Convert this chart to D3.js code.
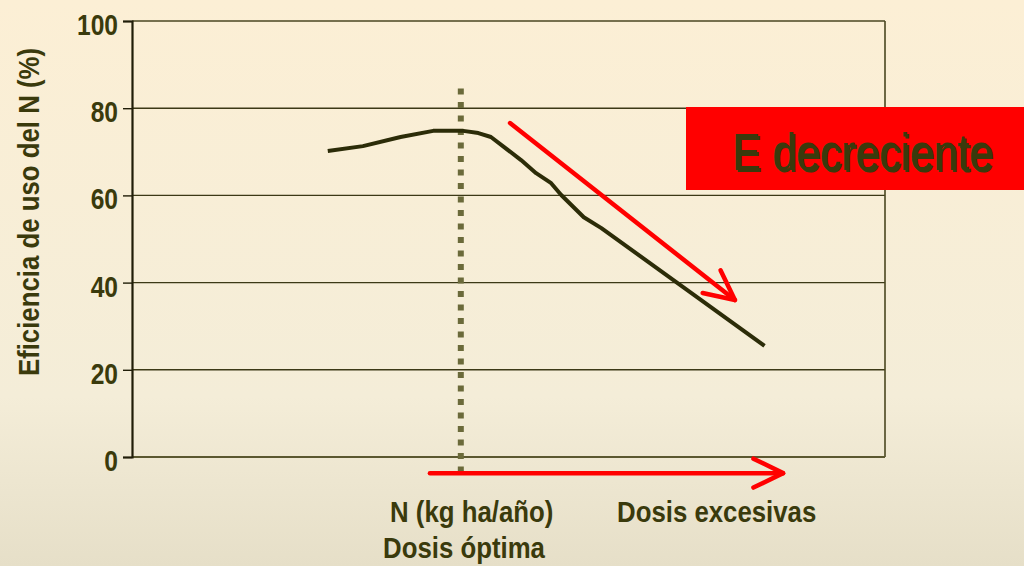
<!DOCTYPE html>
<html>
<head>
<meta charset="utf-8">
<title>Eficiencia de uso del N</title>
<script src="https://cdn.jsdelivr.net/npm/d3@7"></script>
<style>
  html, body { margin: 0; padding: 0; }
  body { width: 1024px; height: 566px; overflow: hidden; }
  svg { display: block; }
  .lbl { font-family: "Liberation Sans", Arial, sans-serif; fill: #3a3a0c; }
</style>
</head>
<body>
<svg id="chart" width="1024" height="566"></svg>
<script>
// dosis de N (kg ha/año, escala relativa) y eficiencia de uso (%)
var doseN      = [78, 92, 107, 120, 132, 138, 143, 155, 161, 167, 171, 180, 187, 252]
var efficiency = [70.2, 71.3, 73.4, 74.8, 74.8, 74.3, 73.4, 68.1, 65.1, 62.8, 60.1, 55.0, 52.5, 25.5]
var yTicks     = [0, 20, 40, 60, 80, 100]
var optimumDose = 131
// flechas rojas: [x0, y0, x1, y1] en unidades de datos
var arrowDecline = [150.6, 76.6, 240.2, 36]
var arrowExcess  = [118.7, -3.7, 259.4, -3.7]

var NARROW = 0.86   // Arial Narrow ~ Arial comprimida

var svg = d3.select("#chart")
var W = 1024, H = 566
var pLeft = 132, pRight = 885, pTop = 21, pBottom = 457

// fondo degradado
var defs = svg.append("defs")
var grad = defs.append("linearGradient").attr("id", "bg")
    .attr("x1", 0).attr("y1", 0).attr("x2", 0).attr("y2", 1)
grad.append("stop").attr("offset", "0%").attr("stop-color", "#fcefd5")
grad.append("stop").attr("offset", "70%").attr("stop-color", "#f4edd8")
grad.append("stop").attr("offset", "100%").attr("stop-color", "#e6dfc8")
svg.append("rect").attr("width", W).attr("height", H).attr("fill", "url(#bg)")

var x = d3.scaleLinear().domain([0, 300]).range([pLeft, pRight])
var y = d3.scaleLinear().domain([0, 100]).range([pBottom, pTop])

// lineas de rejilla
svg.append("g")
  .selectAll("line")
  .data(yTicks.filter(function(d) { return d > 0 }))
  .enter().append("line")
    .attr("x1", pLeft).attr("x2", pRight)
    .attr("y1", function(d) { return y(d) }).attr("y2", function(d) { return y(d) })
    .attr("stroke", function(d) { return d == 100 ? "#4a4620" : "#3c3916" })
    .attr("stroke-width", 1.4)

// borde derecho
svg.append("line")
    .attr("x1", pRight).attr("x2", pRight).attr("y1", pTop).attr("y2", pBottom)
    .attr("stroke", "#4a4620").attr("stroke-width", 1.6)

// eje x (base)
svg.append("line")
    .attr("x1", pLeft).attr("x2", pRight).attr("y1", pBottom).attr("y2", pBottom)
    .attr("stroke", "#5b5830").attr("stroke-width", 2.2)

// eje y
var yAxis = d3.axisLeft(y).tickValues(yTicks).tickSize(9).tickPadding(5)
var gy = svg.append("g").attr("transform", "translate(" + pLeft + ",0)").call(yAxis)
gy.select(".domain").attr("stroke", "#201d08").attr("stroke-width", 2.2)
gy.selectAll(".tick line").attr("stroke", "#201d08").attr("stroke-width", 1.4)
gy.selectAll(".tick text")
    .attr("class", "lbl")
    .attr("font-size", 30)
    .attr("font-family", null)
    .attr("font-weight", "bold")
    .attr("dy", "0.45em")
    .attr("fill", "#3a3a0c")
    .attr("x", null)
    .attr("transform", "translate(-14,0) scale(0.82,1)")

// linea de dosis optima
svg.append("line")
    .attr("x1", x(optimumDose)).attr("x2", x(optimumDose))
    .attr("y1", y(84.5)).attr("y2", y(-4.3))
    .attr("stroke", "#6b6a3a").attr("stroke-width", 6)
    .attr("stroke-dasharray", "6,7.5")

// curva de eficiencia
var pts = doseN.map(function(d, i) { return [d, efficiency[i]] })
var line = d3.line().x(function(d) { return x(d[0]) }).y(function(d) { return y(d[1]) })
svg.append("path")
    .datum(pts)
    .attr("d", line)
    .attr("fill", "none")
    .attr("stroke", "#2c2c08")
    .attr("stroke-width", 4)
    .attr("stroke-linejoin", "round")

// flechas
function drawArrow(a) {
  var x0 = x(a[0]), y0 = y(a[1]), x1 = x(a[2]), y1 = y(a[3])
  var ang = Math.atan2(y1 - y0, x1 - x0) + Math.PI
  var len = 33, spread = 26 * Math.PI / 180
  var g = svg.append("g").attr("stroke", "#ff0000").attr("stroke-width", 4.5)
      .attr("fill", "none").attr("stroke-linecap", "round").attr("stroke-linejoin", "round")
  g.append("line").attr("x1", x0).attr("y1", y0).attr("x2", x1).attr("y2", y1)
  g.append("path").attr("d",
    "M" + (x1 + len * Math.cos(ang - spread)) + "," + (y1 + len * Math.sin(ang - spread)) +
    "L" + x1 + "," + y1 +
    "L" + (x1 + len * Math.cos(ang + spread)) + "," + (y1 + len * Math.sin(ang + spread)))
}
drawArrow(arrowDecline)
drawArrow(arrowExcess)

// texto estrecho
function narrowText(tx, ty, rot, txt, size, weight, fill, sx, anchor) {
  return svg.append("text").attr("class", "lbl")
    .attr("transform", "translate(" + tx + "," + ty + ") rotate(" + rot + ") scale(" + sx + ",1)")
    .attr("font-size", size).attr("font-weight", weight)
    .attr("text-anchor", anchor || "start")
    .attr("fill", fill)
    .text(txt)
}

// recuadro "E decreciente"
svg.append("rect").attr("x", 686).attr("y", 107).attr("width", 338).attr("height", 83).attr("fill", "#ff0000")
narrowText(734, 172, 0, "E decreciente", 52, "normal", "#1a1600", 0.82)
narrowText(732, 170, 0, "E decreciente", 52, "normal", "#6b6a35", 0.82)

// titulo eje y
narrowText(39, 212, -90, "Eficiencia de uso del N (%)", 30, "bold", "#3a3a0c", NARROW, "middle")

// textos eje x
narrowText(390, 522, 0, "N (kg ha/año)", 30, "bold", "#3a3a0c", NARROW)
narrowText(617, 522, 0, "Dosis excesivas", 30, "bold", "#3a3a0c", NARROW)
narrowText(383, 558, 0, "Dosis óptima", 30, "bold", "#3a3a0c", NARROW)
</script>
</body>
</html>
